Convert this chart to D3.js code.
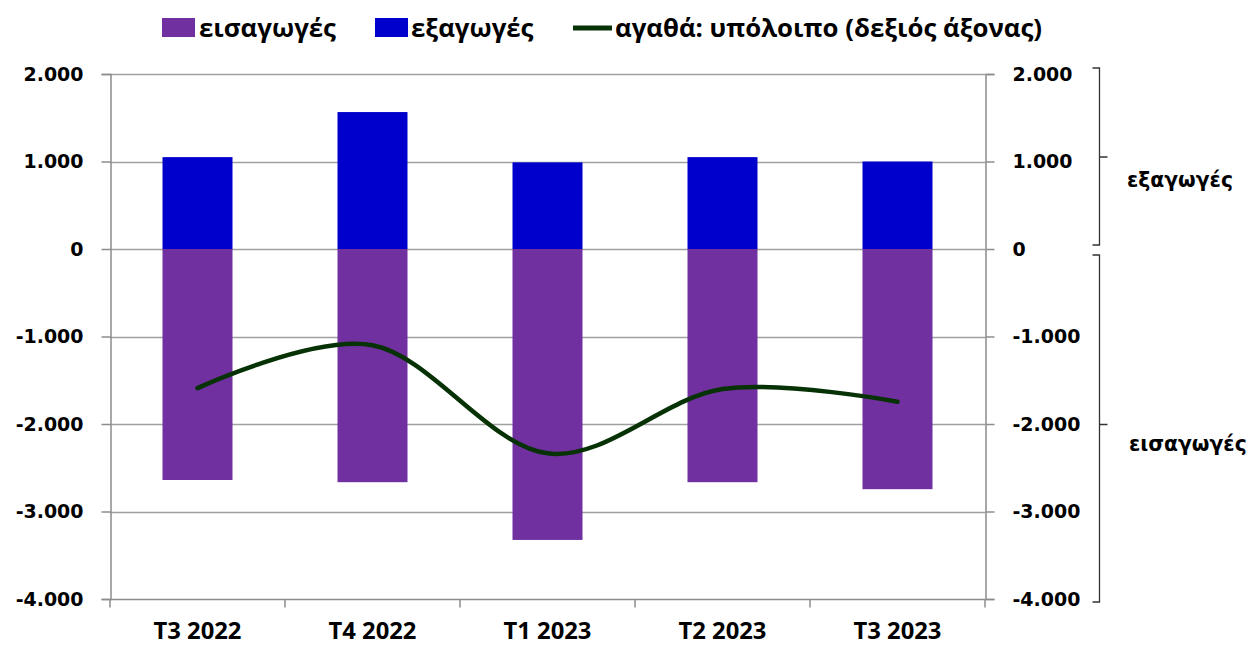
<!DOCTYPE html>
<html>
<head>
<meta charset="utf-8">
<script src="https://cdn.jsdelivr.net/npm/d3@7/dist/d3.min.js"></script>
<style>
  body { margin: 0; background: #fff; }
  svg { display: block; }
  .legend text { font-family: "Open Sans", "Noto Sans", sans-serif; font-weight: bold; font-size: 26px; fill: #000; }
  .ytick { font-family: "DejaVu Sans", Verdana, sans-serif; font-weight: bold; font-size: 19px; fill: #000; }
  .xtick { font-family: "Open Sans", "Noto Sans", sans-serif; font-weight: bold; font-size: 22px; fill: #000; }
  .side { font-family: "DejaVu Sans", Verdana, sans-serif; font-weight: bold; font-size: 16px; fill: #000; }
</style>
</head>
<body>
<svg id="chart" width="1252" height="646"></svg>
<script>
// Quarterly trade in goods (millions)
const categories = ["T3 2022", "T4 2022", "T1 2023", "T2 2023", "T3 2023"];
const exportsVals = [1050, 1565, 990, 1050, 1000];
const importsVals = [-2640, -2665, -3325, -2665, -2745];
const balanceVals = [-1590, -1100, -2335, -1600, -1745];
const yTicks = [2000, 1000, 0, -1000, -2000, -3000, -4000];
const legendLabels = ["εισαγωγές", "εξαγωγές", "αγαθά: υπόλοιπο (δεξιός άξονας)"];
const sideLabels = ["εξαγωγές", "εισαγωγές"];

const colors = { imports: "#7030a0", exports: "#0000cc", balance: "#063206", grid: "#a0a0a0", axis: "#8c8c8c" };

const svg = d3.select("#chart");
const plotL = 110, plotR = 985, plotT = 74, plotB = 599;

const x = d3.scaleBand().domain(categories).range([plotL, plotR]).paddingInner(0.6).paddingOuter(0.3);
const xBound = d3.scaleLinear().domain([0, categories.length]).range([plotL, plotR]);
const y = d3.scaleLinear().domain([-4000, 2000]).range([plotB, plotT]);
const y2 = d3.scaleLinear().domain([-4000, 2000]).range([plotB, plotT]);

const locale = d3.formatLocale({ decimal: ",", thousands: ".", grouping: [3], currency: ["", ""], minus: "-" });
const fmt = locale.format(",");

// scale a text element's font size so that it spans the given width
function fitWidth(node, width) {
  const fs = parseFloat(getComputedStyle(node).fontSize);
  const w = node.getComputedTextLength();
  const size = fs * width / w;
  node.style.fontSize = size + "px";
  return size;
}

// gridlines
svg.append("g").selectAll("line").data(yTicks.filter(t => t > -4000)).join("line")
  .attr("x1", plotL).attr("x2", plotR)
  .attr("y1", d => Math.round(y(d)) + 0.5).attr("y2", d => Math.round(y(d)) + 0.5)
  .attr("stroke", colors.grid).attr("stroke-width", 1.5);

// bars
const barW = x.bandwidth();
svg.append("g").selectAll("rect").data(categories).join("rect")
  .attr("x", d => x(d)).attr("width", barW)
  .attr("y", (d, i) => y(0)).attr("height", (d, i) => y(importsVals[i]) - y(0))
  .attr("fill", colors.imports);
svg.append("g").selectAll("rect").data(categories).join("rect")
  .attr("x", d => x(d)).attr("width", barW)
  .attr("y", (d, i) => y(exportsVals[i])).attr("height", (d, i) => y(0) - y(exportsVals[i]))
  .attr("fill", colors.exports);

// left and right value axes
function styleAxis(g) {
  g.attr("font-family", null).attr("font-size", null);
  g.select(".domain").attr("stroke", colors.axis).attr("stroke-width", 1.5);
  g.selectAll(".tick line").attr("stroke", colors.axis).attr("stroke-width", 1.5);
  g.selectAll(".tick text").attr("class", "ytick").attr("fill", null);
}
const gl = svg.append("g").attr("transform", `translate(${plotL + 0.5},0)`)
  .call(d3.axisLeft(y).tickValues(yTicks).tickFormat(fmt).tickSize(9).tickPadding(18));
styleAxis(gl);
const gr = svg.append("g").attr("transform", `translate(${plotR + 0.5},0)`)
  .call(d3.axisRight(y2).tickValues(yTicks).tickFormat(fmt).tickSize(9).tickPadding(18));
styleAxis(gr);
// size tick labels so "2.000" is ~60px wide
const tickSize = fitWidth(gl.select(".tick text").node(), 60);
svg.selectAll(".ytick").style("font-size", tickSize + "px");

// bottom axis with ticks at category boundaries
const gx = svg.append("g").attr("transform", `translate(0,${plotB + 0.5})`);
gx.append("line").attr("x1", plotL).attr("x2", plotR).attr("stroke", colors.axis).attr("stroke-width", 1.5);
gx.selectAll("line.tk").data(d3.range(categories.length + 1)).join("line").attr("class", "tk")
  .attr("x1", d => xBound(d)).attr("x2", d => xBound(d)).attr("y1", 0).attr("y2", 8)
  .attr("stroke", colors.axis).attr("stroke-width", 1.5);
const xt = gx.selectAll("text").data(categories).join("text").attr("class", "xtick")
  .attr("x", d => x(d) + barW / 2).attr("y", 39.5).attr("text-anchor", "middle").text(d => d);
const xSize = fitWidth(xt.node(), 88);
xt.style("font-size", xSize + "px");

// balance line (right axis), smoothed
const line = d3.line()
  .x((d, i) => x(categories[i]) + barW / 2)
  .y(d => y2(d))
  .curve(d3.curveCardinal.tension(0));
svg.append("path").datum(balanceVals).attr("d", line)
  .attr("fill", "none").attr("stroke", colors.balance).attr("stroke-width", 4.5).attr("stroke-linecap", "round");

// legend
const lg = svg.append("g").attr("class", "legend");
lg.append("rect").attr("x", 162).attr("y", 18).attr("width", 33).attr("height", 19).attr("fill", colors.imports);
const l0 = lg.append("text").attr("x", 199).attr("y", 37).text(legendLabels[0]);
lg.append("rect").attr("x", 375).attr("y", 18).attr("width", 33).attr("height", 19).attr("fill", colors.exports);
lg.append("text").attr("x", 411).attr("y", 37).text(legendLabels[1]);
lg.append("line").attr("x1", 573).attr("x2", 612).attr("y1", 28).attr("y2", 28).attr("stroke", colors.balance).attr("stroke-width", 5);
lg.append("text").attr("x", 615).attr("y", 37).text(legendLabels[2]);
const legSize = fitWidth(l0.node(), 137);
lg.selectAll("text").style("font-size", legSize + "px");

// side braces grouping the right axis
function brace(x0, y0, y1, ym) {
  const p = d3.path();
  p.moveTo(x0 - 7, y0); p.lineTo(x0, y0); p.lineTo(x0, y1); p.lineTo(x0 - 7, y1);
  p.moveTo(x0, ym); p.lineTo(x0 + 8, ym);
  return p.toString();
}
const bg = svg.append("g").attr("fill", "none").attr("stroke", "#333").attr("stroke-width", 1.3);
bg.append("path").attr("d", brace(1099.5, y(2000) - 6, y(0) - 4, y(1000) - 4.5));
bg.append("path").attr("d", brace(1099.5, y(0) + 6, y(-4000) + 3, y(-2000) + 0.5));
const s0 = svg.append("text").attr("class", "side").attr("x", 1127).attr("y", 187).text(sideLabels[0]);
const s1 = svg.append("text").attr("class", "side").attr("x", 1129).attr("y", 451).text(sideLabels[1]);
const sideSize = fitWidth(s0.node(), 106);
s1.style("font-size", sideSize + "px");
</script>
</body>
</html>
